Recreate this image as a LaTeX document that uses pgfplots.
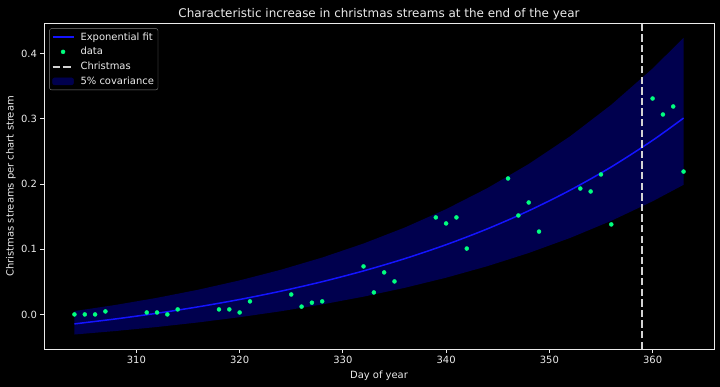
\documentclass[border=0pt]{standalone}
\usepackage{fontspec}
\setmainfont{DejaVu Sans}
\usepackage{pgfplots}
\pgfplotsset{compat=1.18}
\definecolor{bandblue}{RGB}{0,0,78}
\definecolor{springgreen}{RGB}{0,255,127}
\definecolor{fitblue}{RGB}{20,20,255}
\definecolor{xmasgray}{RGB}{211,211,211}
\definecolor{fg}{RGB}{235,235,235}
\begin{document}
\begin{tikzpicture}
\fill[black] (-44bp,-38bp) rectangle (676bp,349bp);
\begin{axis}[
  scale only axis, width=670bp, height=325.5bp,
  xmin=301.05, xmax=365.95, ymin=-0.053, ymax=0.446,
  axis line style={fg, line width=0.8bp},
  tick style={fg, line width=0.8bp},
  tick align=outside, tick pos=left, major tick length=3.5bp,
  xtick={310,320,330,340,350,360}, ytick={0,0.1,0.2,0.3,0.4},
  yticklabel style={/pgf/number format/.cd, fixed, fixed zerofill, precision=1},
  xticklabel style={/pgf/number format/.cd, fixed, precision=0, set thousands separator={}},
  /pgf/number format/assume math mode=true,
  ticklabel style={font=\fontsize{10}{12}\selectfont, text=fg},
  title={Characteristic increase in christmas streams at the end of the year},
  title style={font=\fontsize{12}{14}\selectfont, text=fg, at={(axis description cs:0.5,1.0184)}, anchor=south, inner sep=0pt, yshift=-9bp},
  xlabel={Day of year},
  xlabel style={font=\fontsize{10}{12}\selectfont, text=fg, at={(axis description cs:0.5,-0.0815)}, anchor=center},
  ylabel={Christmas streams per chart stream},
  ylabel style={font=\fontsize{10}{12}\selectfont, text=fg, at={(axis description cs:-0.04925,0.5)}, anchor=center},
  legend style={at={(axis description cs:0.008,0.985)}, anchor=north west, draw=gray, fill=black, text=fg, rounded corners=2bp, font=\fontsize{10}{12}\selectfont, inner sep=2bp, row sep=1.7bp, column sep=4bp},
  legend cell align=left,
]
\addplot[fill=bandblue, draw=none, forget plot] coordinates {
(304,0.0051) (308,0.01459) (312,0.02545) (316,0.03790) (320,0.05216) (324,0.06850)
(328,0.08722) (332,0.10867) (336,0.13324) (340,0.16139) (344,0.19364) (348,0.23059)
(352,0.27292) (356,0.32142) (360,0.37698) (363,0.42393)
(363,0.19869) (360,0.17346) (356,0.14348) (352,0.11720) (348,0.09418) (344,0.07400)
(340,0.05632) (336,0.04082) (332,0.02724) (328,0.01534) (324,0.00491) (320,-0.00423)
(316,-0.01224) (312,-0.01926) (308,-0.02541) (304,-0.0308)};
\addplot[fitblue, line width=1.5bp, smooth,
  legend image code/.code={\draw[fitblue, line width=1.5bp] (0bp,0bp) -- (21bp,0bp);}] coordinates {
(304,-0.0145) (308,-0.00687) (312,0.00181) (316,0.01168) (320,0.02291) (324,0.03568)
(328,0.05021) (332,0.06673) (336,0.08552) (340,0.10690) (344,0.13122) (348,0.15888)
(352,0.19034) (356,0.22613) (360,0.26684) (363,0.30100)};
\addlegendentry{Exponential fit}
\addplot[only marks, mark=*, mark size=2bp, draw=springgreen, fill=springgreen,
  legend image code/.code={\fill[springgreen] (10.5bp,0bp) circle (2bp);}] coordinates {
(304,0.0) (305,0.0) (306,0.0) (307,0.0046)
(311,0.003) (312,0.003) (313,0.0) (314,0.0077)
(318,0.0077) (319,0.0077) (320,0.003) (321,0.02)
(325,0.0306) (326,0.012) (327,0.018) (328,0.02)
(332,0.0736) (333,0.0337) (334,0.0644) (335,0.0506)
(339,0.1487) (340,0.1395) (341,0.1487) (342,0.101)
(346,0.2084) (347,0.1517) (348,0.1716) (349,0.127)
(353,0.193) (354,0.1885) (355,0.2146) (356,0.138)
(360,0.331) (361,0.3065) (362,0.3188) (363,0.219)};
\addlegendentry{data}
\addplot[xmasgray, line width=2bp, dash pattern=on 7.4bp off 3.2bp,
  legend image code/.code={\draw[xmasgray, line width=2bp, dash pattern=on 7.4bp off 3.2bp] (0bp,0bp) -- (21bp,0bp);}] coordinates {(359,-0.053) (359,0.446)};
\addlegendentry{Christmas}
\addlegendimage{legend image code/.code={\fill[bandblue] (0bp,-3.5bp) rectangle (21bp,3.5bp);}}
\addlegendentry{5\% covariance}
\end{axis}
\pgfresetboundingbox
\path[use as bounding box] (-44bp,-38bp) rectangle (676bp,349bp);
\end{tikzpicture}
\end{document}
